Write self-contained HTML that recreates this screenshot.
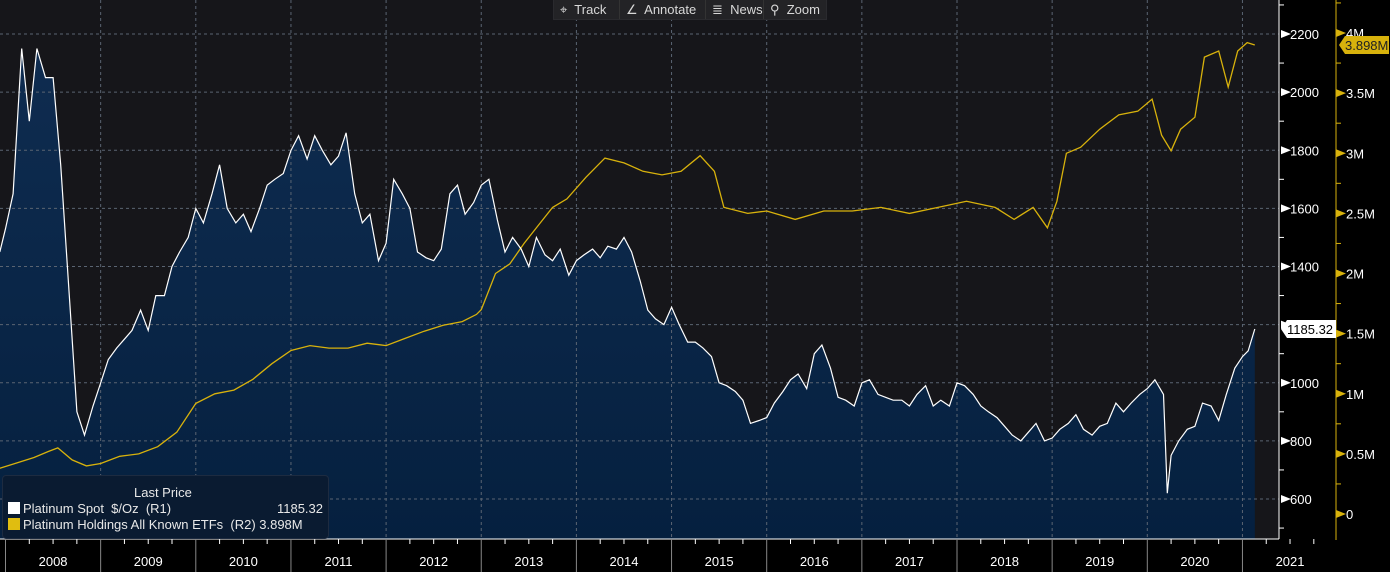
<!DOCTYPE html>
<html><head><meta charset="utf-8"><style>
html,body{margin:0;padding:0;background:#000;width:1390px;height:572px;overflow:hidden;font-family:"Liberation Sans",sans-serif}
#tb{position:absolute;left:553px;top:0;height:19px;display:flex;background:#1c1c1f;border:1px solid #2a2a2e;border-top:none}
#tb div{color:#d8d8d8;font-size:13px;line-height:19px;box-sizing:border-box;padding-left:6px;border-right:1px solid #333;background:#232326}
#legend{position:absolute;left:2px;top:475px;width:325px;height:62px;background:#0a1b31;border:1px solid #1d2b40;border-radius:4px;color:#e8e8e8;font-size:13px}
.sw{display:inline-block;width:12px;height:12px;vertical-align:-1px;margin:0 3px 0 5px}
</style></head><body>
<svg id="chart" width="1390" height="572" style="position:absolute;left:0;top:0"></svg>
<div id="tb">
<div style="width:66px">⌖&nbsp; Track</div>
<div style="width:86px">∠&nbsp; Annotate</div>
<div style="width:58px">≣&nbsp; News</div>
<div style="width:62px;border-right:none">⚲&nbsp; Zoom</div>
</div>
<div id="legend">
<div style="position:absolute;left:131px;top:9px">Last Price</div>
<div style="position:absolute;left:0;top:25px;width:320px"><span class="sw" style="background:#fff"></span>Platinum Spot&nbsp; $/Oz&nbsp; (R1)<span style="position:absolute;right:0">1185.32</span></div>
<div style="position:absolute;left:0;top:41px"><span class="sw" style="background:#e0bd10"></span>Platinum Holdings All Known ETFs&nbsp; (R2) 3.898M</div>
</div>
<script>
const priceDates=[2007.94,2008.0,2008.08,2008.17,2008.25,2008.33,2008.42,2008.5,2008.58,2008.67,2008.75,2008.83,2008.92,
2009.0,2009.08,2009.17,2009.25,2009.33,2009.42,2009.5,2009.58,2009.67,2009.75,2009.83,2009.92,
2010.0,2010.08,2010.17,2010.25,2010.33,2010.42,2010.5,2010.58,2010.67,2010.75,2010.83,2010.92,
2011.0,2011.08,2011.17,2011.25,2011.33,2011.42,2011.5,2011.58,2011.67,2011.75,2011.83,2011.92,
2012.0,2012.08,2012.17,2012.25,2012.33,2012.42,2012.5,2012.58,2012.67,2012.75,2012.83,2012.92,
2013.0,2013.08,2013.17,2013.25,2013.33,2013.42,2013.5,2013.58,2013.67,2013.75,2013.83,2013.92,
2014.0,2014.08,2014.17,2014.25,2014.33,2014.42,2014.5,2014.58,2014.67,2014.75,2014.83,2014.92,
2015.0,2015.08,2015.17,2015.25,2015.33,2015.42,2015.5,2015.58,2015.67,2015.75,2015.83,2015.92,
2016.0,2016.08,2016.17,2016.25,2016.33,2016.42,2016.5,2016.58,2016.67,2016.75,2016.83,2016.92,
2017.0,2017.08,2017.17,2017.25,2017.33,2017.42,2017.5,2017.58,2017.67,2017.75,2017.83,2017.92,
2018.0,2018.08,2018.17,2018.25,2018.33,2018.42,2018.5,2018.58,2018.67,2018.75,2018.83,2018.92,
2019.0,2019.08,2019.17,2019.25,2019.33,2019.42,2019.5,2019.58,2019.67,2019.75,2019.83,2019.92,
2020.0,2020.08,2020.17,2020.21,2020.25,2020.33,2020.42,2020.5,2020.58,2020.67,2020.75,2020.83,2020.92,
2021.0,2021.06,2021.13];
const priceValues=[1450,1530,1650,2150,1900,2150,2050,2050,1750,1300,900,820,920,
1000,1080,1120,1150,1180,1250,1180,1300,1300,1400,1450,1500,
1600,1550,1650,1750,1600,1550,1580,1520,1600,1680,1700,1720,
1800,1850,1770,1850,1800,1750,1780,1860,1650,1550,1580,1420,
1480,1700,1650,1600,1450,1430,1420,1460,1650,1680,1580,1620,
1680,1700,1560,1450,1500,1460,1400,1500,1440,1420,1460,1370,
1420,1440,1460,1430,1470,1460,1500,1450,1350,1250,1220,1200,
1260,1200,1140,1140,1120,1090,1000,990,970,940,860,870,
880,930,970,1010,1030,980,1100,1130,1050,950,940,920,
1000,1010,960,950,940,940,920,960,990,920,940,920,
1000,990,960,920,900,880,850,820,800,830,860,800,
810,840,860,890,840,820,850,860,930,900,930,960,
980,1010,960,620,750,800,840,850,930,920,870,960,1050,
1090,1110,1185];
const etfDates=[2007.94,2008.1,2008.3,2008.45,2008.55,2008.7,2008.85,2009.0,2009.2,2009.4,2009.6,2009.8,2010.0,2010.2,2010.4,2010.6,2010.8,2011.0,2011.2,2011.4,2011.6,2011.8,2012.0,2012.2,2012.4,2012.6,2012.8,2012.95,2013.0,2013.15,2013.3,2013.45,2013.6,2013.75,2013.9,2014.1,2014.3,2014.5,2014.7,2014.9,2015.1,2015.3,2015.45,2015.55,2015.8,2016.0,2016.3,2016.6,2016.9,2017.2,2017.5,2017.8,2018.1,2018.4,2018.6,2018.8,2018.95,2019.05,2019.15,2019.3,2019.5,2019.7,2019.9,2020.05,2020.15,2020.25,2020.35,2020.5,2020.6,2020.75,2020.85,2020.95,2021.05,2021.13];
const etfValues=[0.38,0.42,0.47,0.52,0.55,0.45,0.40,0.42,0.48,0.50,0.56,0.68,0.92,1.00,1.03,1.12,1.25,1.36,1.40,1.38,1.38,1.42,1.40,1.46,1.52,1.57,1.60,1.66,1.70,2.00,2.08,2.25,2.40,2.55,2.62,2.80,2.96,2.92,2.85,2.82,2.85,2.98,2.85,2.55,2.50,2.52,2.45,2.52,2.52,2.55,2.50,2.55,2.60,2.55,2.45,2.55,2.38,2.60,3.00,3.05,3.20,3.32,3.35,3.45,3.15,3.02,3.20,3.30,3.80,3.85,3.55,3.85,3.92,3.90];
const r1Ticks=[600,800,1000,1200,1400,1600,1800,2000,2200];
const r2Ticks=[0,0.5,1,1.5,2,2.5,3,3.5,4];
const r2Labels=["0","0.5M","1M","1.5M","2M","2.5M","3M","3.5M","4M"];
const years=[2008,2009,2010,2011,2012,2013,2014,2015,2016,2017,2018,2019,2020,2021];

const NS="http://www.w3.org/2000/svg";
const svg=document.getElementById('chart');
const X0=5.5, YW=95.15, PR=1279, PB=539;
const xs=d=>X0+(d-2008)*YW;
const y1=p=>499-(p-600)*(465/1600);
const y2=v=>514-v*(481/4);
function el(t,a,txt){const e=document.createElementNS(NS,t);for(const k in a)e.setAttribute(k,a[k]);if(txt!==undefined)e.textContent=txt;svg.appendChild(e);return e;}

let e=el('rect',{x:0,y:0,width:PR,height:PB,fill:'#16161a'});

const defs=el('defs',{});
defs.innerHTML='<linearGradient id="g" x1="0" y1="0" x2="0" y2="1"><stop offset="0" stop-color="#0f2c50"/><stop offset="1" stop-color="#05203f"/></linearGradient>';
let pts=priceDates.map((d,i)=>xs(d).toFixed(1)+','+y1(priceValues[i]).toFixed(1));
const lastX=xs(priceDates[priceDates.length-1]);
e=el('path',{d:'M'+xs(priceDates[0])+','+PB+' L'+pts.join(' L')+' L'+lastX+','+PB+'Z',fill:'url(#g)'});

r1Ticks.forEach(t=>{const g=el('line',{x1:0,x2:PR,y1:y1(t),y2:y1(t),stroke:'#5a6472','stroke-dasharray':'3,3','stroke-width':1});
});
years.forEach(yr=>{if(yr===2008)return;const g=el('line',{x1:xs(yr),x2:xs(yr),y1:0,y2:PB,stroke:'#5a6472','stroke-dasharray':'3,3'});
});
e=el('polyline',{points:etfDates.map((d,i)=>xs(d).toFixed(1)+','+y2(etfValues[i]).toFixed(1)).join(' '),fill:'none',stroke:'#d8b20c','stroke-width':1.3});

e=el('polyline',{points:pts.join(' '),fill:'none',stroke:'#fff','stroke-width':1.2});

e=el('line',{x1:PR,x2:PR,y1:0,y2:PB,stroke:'#fff'});
e=el('line',{x1:0,x2:PR,y1:PB,y2:PB,stroke:'#fff'});
e=el('line',{x1:1336,x2:1336,y1:0,y2:540,stroke:'#d8b20c'});
for(let p=500;p<=2300;p+=100){if(p%200)el('line',{x1:PR,x2:PR+5,y1:y1(p),y2:y1(p),stroke:'#fff'});}
r1Ticks.forEach(t=>{el('path',{d:`M${PR+2},${y1(t)-4} L${PR+12},${y1(t)} L${PR+2},${y1(t)+4}Z`,fill:'#fff'});
const l=el('text',{x:PR+11,y:y1(t)+5,fill:'#fff','font-size':13,'font-family':'Liberation Sans'},String(t));
});
for(let v=0.25;v<=4.25;v+=0.5)el('line',{x1:1336,x2:1341,y1:y2(v),y2:y2(v),stroke:'#d8b20c'});
r2Ticks.forEach((t,i)=>{el('path',{d:`M1336,${y2(t)-4} L1346,${y2(t)} L1336,${y2(t)+4}Z`,fill:'#d8b20c'});
const l=el('text',{x:1346,y:y2(t)+5,fill:'#fff','font-size':13,'font-family':'Liberation Sans'},r2Labels[i]);
});
let ty=y1(priceValues[priceValues.length-1]);
el('path',{d:`M${PR+2},${ty} L${PR+8},${ty-9} L1336,${ty-9} L1336,${ty+9} L${PR+8},${ty+9}Z`,fill:'#fff'});
e=el('text',{x:PR+8,y:ty+5,fill:'#000','font-size':13,'font-family':'Liberation Sans'},'1185.32');

ty=y2(etfValues[etfValues.length-1]);
el('path',{d:`M1339,${ty} L1345,${ty-9} L1389,${ty-9} L1389,${ty+9} L1345,${ty+9}Z`,fill:'#d8b20c'});
e=el('text',{x:1345,y:ty+5,fill:'#222','font-size':13,'font-family':'Liberation Sans'},'3.898M');

years.forEach(yr=>{
 el('line',{x1:xs(yr),x2:xs(yr),y1:PB,y2:572,stroke:'#888'});
 for(let q=1;q<4;q++)el('line',{x1:xs(yr+q/4),x2:xs(yr+q/4),y1:PB,y2:PB+5,stroke:'#fff'});
 const l=el('text',{x:xs(yr+0.5),y:566,fill:'#fff','font-size':13,'text-anchor':'middle','font-family':'Liberation Sans'},String(yr));
 
});
</script>
</body></html>
